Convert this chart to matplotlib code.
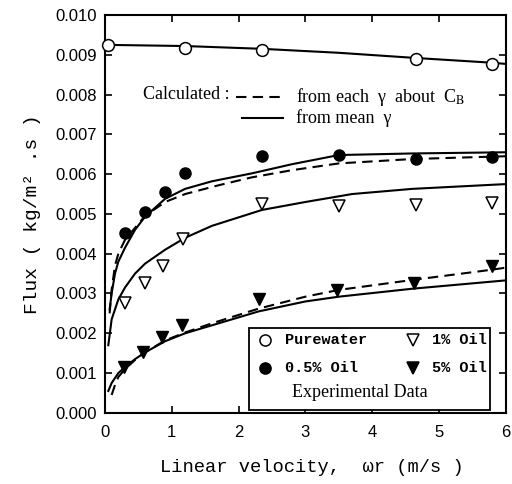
import matplotlib
matplotlib.use("Agg")
import matplotlib.pyplot as plt
from matplotlib.patches import Rectangle

plt.rcParams["mathtext.fontset"] = "stix"

# experimental data (x = linear velocity m/s, y = flux kg/m2.s)
pure_x = [0.05, 1.2, 2.35, 4.65, 5.8]
pure_y = [0.00925, 0.00918, 0.00913, 0.00890, 0.00878]
oil05_x = [0.3, 0.6, 0.9, 1.2, 2.35, 3.5, 4.65, 5.8]
oil05_y = [0.00452, 0.00504, 0.00556, 0.00602, 0.00646, 0.00648, 0.00638, 0.00644]
oil1_x = [0.3, 0.6, 0.87, 1.17, 2.35, 3.5, 4.65, 5.8]
oil1_y = [0.00277, 0.00327, 0.00370, 0.00436, 0.00524, 0.00520, 0.00522, 0.00528]
oil5_x = [0.28, 0.57, 0.86, 1.16, 2.3, 3.48, 4.62, 5.79]
oil5_y = [0.00116, 0.00154, 0.00190, 0.00221, 0.00286, 0.00309, 0.00327, 0.00368]

# calculated curves
pure_fit_x = [0.0, 1.2, 2.35, 3.5, 4.65, 5.8, 6.0]
pure_fit_y = [0.00925, 0.00922, 0.00915, 0.00905, 0.00892, 0.00880, 0.00877]

oil05_mean_x = [0.07, 0.1, 0.15, 0.2, 0.3, 0.45, 0.6, 0.9, 1.2, 1.6, 2.2, 2.8, 3.5, 4.6, 6.0]
oil05_mean_y = [0.0026, 0.0030, 0.0035, 0.0038, 0.00415, 0.0046, 0.00493, 0.00538,
                0.00563, 0.00582, 0.00602, 0.00625, 0.00648, 0.00652, 0.00655]
oil05_each_x = [0.07, 0.1, 0.15, 0.2, 0.3, 0.6, 0.9, 1.2, 1.7, 2.2, 2.8, 3.5, 4.6, 6.0]
oil05_each_y = [0.0025, 0.0031, 0.0037, 0.0040, 0.00435, 0.00495, 0.0053, 0.0055,
                0.00572, 0.00592, 0.0061, 0.00627, 0.00638, 0.00645]

oil1_mean_x = [0.05, 0.1, 0.2, 0.3, 0.45, 0.6, 0.9, 1.2, 1.6, 2.35, 3.0, 3.7, 4.6, 6.0]
oil1_mean_y = [0.0017, 0.00235, 0.00285, 0.00315, 0.0035, 0.00375, 0.0041, 0.0044,
               0.0047, 0.0051, 0.0053, 0.0055, 0.00563, 0.00575]

oil5_mean_x = [0.05, 0.1, 0.2, 0.3, 0.45, 0.6, 0.9, 1.2, 1.6, 2.3, 3.0, 3.5, 4.6, 6.0]
oil5_mean_y = [0.00055, 0.00075, 0.0010, 0.00115, 0.00135, 0.00152, 0.0018, 0.0020,
               0.0022, 0.00255, 0.0028, 0.00292, 0.00312, 0.00333]
oil5_each_x = [0.1, 0.15, 0.2, 0.3, 0.45, 0.6, 0.9, 1.2, 1.6, 2.3, 3.0, 3.5, 4.6, 5.8, 6.0]
oil5_each_y = [0.00045, 0.0007, 0.0009, 0.0011, 0.00133, 0.00152, 0.00182, 0.00202,
               0.00225, 0.00262, 0.00292, 0.00309, 0.00334, 0.0036, 0.00365]

xticks = [0, 1, 2, 3, 4, 5, 6]
yticks = [i / 1000 for i in range(11)]

SERIF = "Liberation Serif"
MONO = "Liberation Mono"
SANS = "Liberation Sans"

fig = plt.figure(figsize=(5.12, 4.84), dpi=100)
ax = fig.add_axes([0.205, 0.147, 0.783, 0.822])

lw = 1.5
dash = (0, (5, 3))
ax.plot(pure_fit_x, pure_fit_y, "k-", lw=lw)
ax.plot(oil05_mean_x, oil05_mean_y, "k-", lw=lw)
ax.plot(oil05_each_x, oil05_each_y, color="k", ls=dash, lw=lw)
ax.plot(oil1_mean_x, oil1_mean_y, "k-", lw=lw)
ax.plot(oil5_mean_x, oil5_mean_y, "k-", lw=lw)
ax.plot(oil5_each_x, oil5_each_y, color="k", ls=dash, lw=lw)

ax.plot(pure_x, pure_y, "o", ms=8.5, mfc="white", mec="k", mew=1.1, clip_on=False, zorder=3)
ax.plot(oil05_x, oil05_y, "o", ms=8, mfc="k", mec="k", zorder=3)
ax.plot(oil1_x, oil1_y, "v", ms=8.5, mfc="white", mec="k", mew=1.1, zorder=3)
ax.plot(oil5_x, oil5_y, "v", ms=8.5, mfc="k", mec="k", zorder=3)

ax.set_xlim(0, 6)
ax.set_ylim(0, 0.010)
ax.set_xticks(xticks)
ax.set_yticks(yticks)
ax.set_xticklabels([str(t) for t in xticks], family=SANS, fontsize=12)
ax.set_yticklabels([f"{t:.3f}" for t in yticks], family=SANS, fontsize=12)
ax.tick_params(direction="in", length=5, width=1.2, top=True, right=True, pad=6)
ax.tick_params(axis="x", pad=9)
for s in ax.spines.values():
    s.set_linewidth(1.5)

ax.set_ylabel("Flux ( kg/m² .s )", family=MONO, fontsize=14)
ax.yaxis.set_label_coords(-0.16, 0.5)
ax.set_xlabel("Linear velocity,  ωr (m/s )", family=MONO, fontsize=13.5)
ax.xaxis.set_label_coords(0.515, -0.115)

# calculated-curve key
tr = ax.transAxes
ax.text(0.095, 0.80, "Calculated :", transform=tr, family=SERIF, fontsize=13, va="center")
ax.plot([0.326, 0.444], [0.794, 0.794], color="k", ls=dash, lw=lw, transform=tr)
ax.text(0.477, 0.794, "from each  γ  about  C$_{\\mathrm{B}}$", transform=tr,
        family=SERIF, fontsize=13, va="center")
ax.plot([0.342, 0.444], [0.741, 0.741], "k-", lw=lw, transform=tr)
ax.text(0.477, 0.741, "from mean  γ", transform=tr, family=SERIF, fontsize=13, va="center")

# experimental data key
ax.add_patch(Rectangle((0.359, 0.0075), 0.601, 0.206, transform=tr,
                       facecolor="white", edgecolor="k", lw=1.3, zorder=4))
rows = [(0.183, "o", "white", "Purewater", "v", "white", "1% Oil"),
        (0.113, "o", "k", "0.5% Oil", "v", "k", "5% Oil")]
for y, m1, f1, t1, m2, f2, t2 in rows:
    ax.plot(0.399, y, m1, ms=8, mfc=f1, mec="k", mew=1.1, transform=tr, zorder=5)
    ax.text(0.449, y, t1, transform=tr, family=MONO, fontweight="bold", fontsize=11,
            va="center", zorder=5)
    ax.plot(0.768, y, m2, ms=8, mfc=f2, mec="k", mew=1.1, transform=tr, zorder=5)
    ax.text(0.815, y, t2, transform=tr, family=MONO, fontweight="bold", fontsize=11,
            va="center", zorder=5)
ax.text(0.636, 0.050, "Experimental Data", transform=tr, family=SERIF, fontsize=13,
        ha="center", va="center", zorder=5)

fig.savefig("out.png", dpi=100)
